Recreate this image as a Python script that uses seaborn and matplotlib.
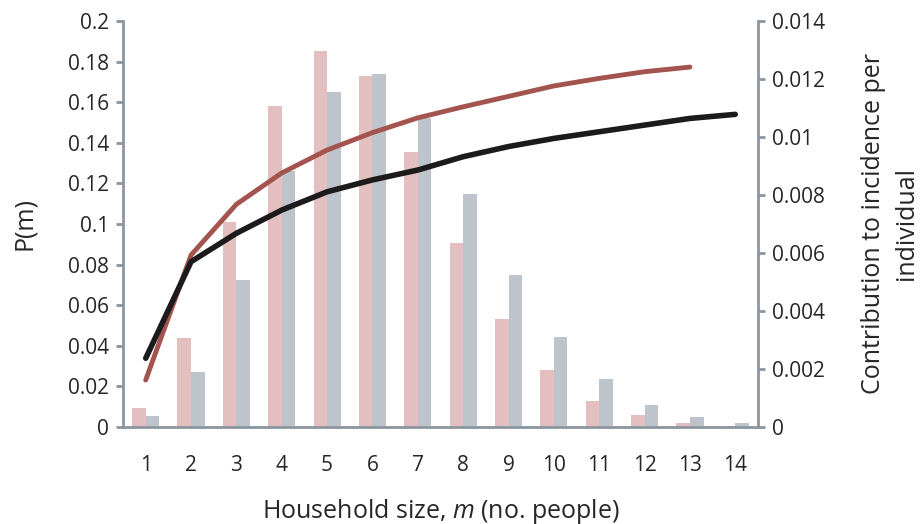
import numpy as np
import pandas as pd
import matplotlib
matplotlib.use("Agg")
import matplotlib.pyplot as plt
import seaborn as sns

# household sizes
sizes = list(range(1, 15))

# P(m) bars (left axis)
p_pink = [0.0095, 0.0438, 0.101, 0.158, 0.185, 0.173, 0.1355, 0.0905, 0.0534,
          0.0282, 0.0130, 0.0058, 0.0020, 0.0004]
p_grey = [0.0056, 0.0272, 0.0724, 0.126, 0.165, 0.174, 0.152, 0.1146, 0.0749,
          0.0442, 0.0236, 0.0110, 0.0049, 0.0021]

# contribution to incidence per individual (right axis)
contrib_red = [0.00162, 0.00593, 0.00768, 0.00876, 0.00955, 0.01015, 0.01066,
               0.01104, 0.01140, 0.01176, 0.01202, 0.01225, 0.01241]
contrib_black = [0.00237, 0.00570, 0.00668, 0.00748, 0.00811, 0.00852, 0.00886,
                 0.00932, 0.00967, 0.00995, 0.01018, 0.01041, 0.01064, 0.01078]

sns.set_style("white")
plt.rcParams["font.family"] = ["Open Sans", "DejaVu Sans"]
plt.rcParams["mathtext.fontset"] = "custom"
plt.rcParams["mathtext.it"] = "Open Sans:italic"

axis_col = "#8c969f"
text_col = "#262626"

bars = pd.DataFrame({
    "m": sizes * 2,
    "P": p_pink + p_grey,
    "series": ["pink"] * len(sizes) + ["grey"] * len(sizes),
})
red_df = pd.DataFrame({"m": sizes[:len(contrib_red)], "c": contrib_red})
black_df = pd.DataFrame({"m": sizes, "c": contrib_black})

fig = plt.figure(figsize=(9.23, 5.24), dpi=100)
ax = fig.add_axes([0.1333, 0.1851, 0.6879, 0.7749])

sns.barplot(data=bars, x="m", y="P", hue="series", native_scale=True,
            palette={"pink": "#e4bfbf", "grey": "#bec4cb"}, width=0.6,
            gap=0, saturation=1, legend=False, linewidth=0, ax=ax)

ax2 = ax.twinx()
sns.lineplot(data=red_df, x="m", y="c", color="#a4544f", linewidth=3.5,
             solid_capstyle="round", ax=ax2)
sns.lineplot(data=black_df, x="m", y="c", color="#1c1a1a", linewidth=4.0,
             solid_capstyle="round", ax=ax2)

ax.set_xlim(0.5, 14.5)
ax.set_ylim(0, 0.2)
ax2.set_ylim(0, 0.014)

ax.set_yticks(np.arange(0, 0.2001, 0.02))
ax.set_yticklabels(["0", "0.02", "0.04", "0.06", "0.08", "0.1", "0.12",
                    "0.14", "0.16", "0.18", "0.2"])
ax2.set_yticks(np.arange(0, 0.01401, 0.002))
ax2.set_yticklabels(["0", "0.002", "0.004", "0.006", "0.008", "0.01",
                     "0.012", "0.014"])

# boundary ticks on x, labels centred in between
ax.set_xticks(np.arange(0.5, 15, 1))
ax.set_xticklabels([])
ax.set_xticks(sizes, minor=True)
ax.set_xticklabels([str(s) for s in sizes], minor=True)
ax.tick_params(axis="x", which="minor", length=0, pad=20, labelsize=15,
               labelcolor=text_col)
ax.tick_params(axis="x", which="major", length=5, width=2, color=axis_col,
               direction="out")
ax.tick_params(axis="y", length=5, width=2, color=axis_col, direction="out",
               labelsize=15, labelcolor=text_col, pad=5, left=True)
ax2.tick_params(axis="y", length=5, width=2, color=axis_col, direction="out",
                labelsize=15, labelcolor=text_col, pad=5, right=True)

for a in (ax, ax2):
    a.spines["top"].set_visible(False)
    for s in ("left", "right", "bottom"):
        a.spines[s].set_color(axis_col)
        a.spines[s].set_linewidth(2)
ax.spines["right"].set_visible(False)
ax2.spines["left"].set_visible(False)
ax2.spines["bottom"].set_visible(False)

ax.set_xlabel("Household size, $m$ (no. people)", fontsize=18, color=text_col,
              labelpad=15)
ax.set_ylabel("P(m)", fontsize=18, color=text_col, labelpad=22)
ax2.set_xlabel("")
ax2.set_ylabel("Contribution to incidence per\nindividual", fontsize=18,
               color=text_col, labelpad=26, linespacing=1.4)

fig.savefig("out.png", dpi=100)
